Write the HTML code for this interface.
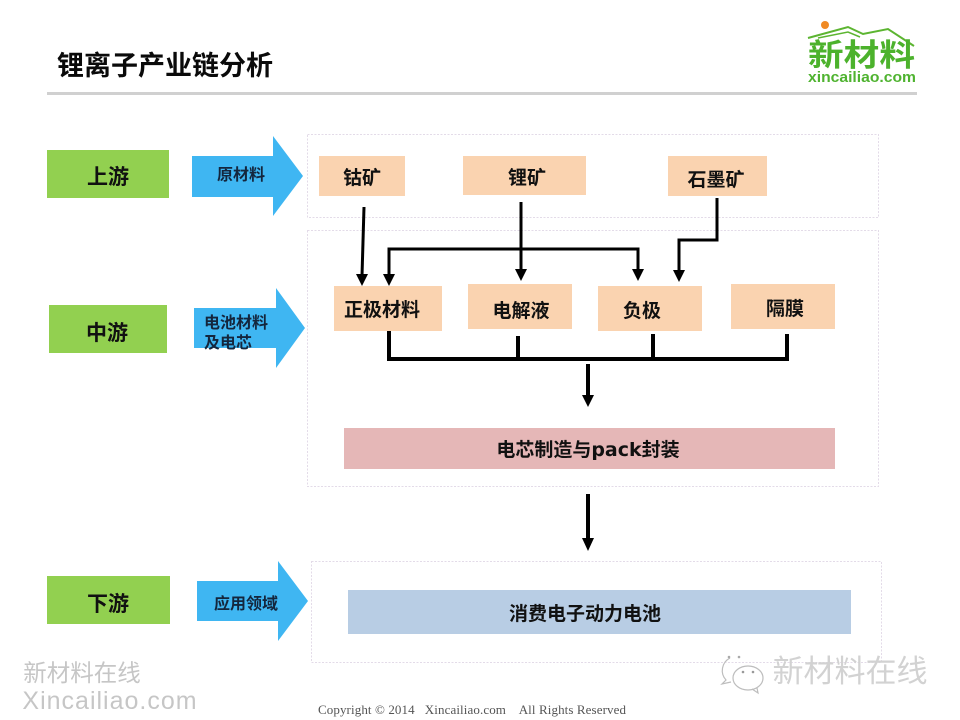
<!DOCTYPE html>
<html lang="zh"><head><meta charset="utf-8"><title>锂离子产业链分析</title>
<style>html,body{margin:0;padding:0;background:#fff}svg{display:block;filter:blur(.35px)}
text{font-family:"Liberation Sans","Noto Sans CJK SC",sans-serif;font-weight:700;fill:#111;text-anchor:middle}
</style></head><body>
<svg width="960" height="720" viewBox="0 0 960 720" xmlns="http://www.w3.org/2000/svg">
<rect width="960" height="720" fill="#fff"/>
<text x="165" y="75" font-size="27" style="fill:#0a0a0a">锂离子产业链分析</text>
<rect x="47" y="92" width="870" height="3" fill="#d0d0d0"/>

<!-- logo -->
<circle cx="825" cy="25" r="4" fill="#f08a24"/>
<path d="M808 38L848 27L863 34L888 29L914 46" fill="none" stroke="#5cb531" stroke-width="2"/>
<path d="M818 38L848 32L860 37" fill="none" stroke="#5cb531" stroke-width="1.500"/>
<text x="861.500" y="66" font-size="31" textLength="107" lengthAdjust="spacingAndGlyphs" style="fill:#4cb22c">新材料</text>
<text x="862" y="82" font-size="14.500" textLength="108" lengthAdjust="spacingAndGlyphs" style="fill:#4fb330">xincailiao.com</text>

<!-- dashed panels -->
<g fill="#fff" stroke="#e3dbe8" stroke-dasharray="2 1.5">
<rect x="307.500" y="134.500" width="571" height="83"/>
<rect x="307.500" y="230.500" width="571" height="256"/>
<rect x="311.500" y="561.500" width="570" height="101"/>
</g>

<!-- green stages -->
<g fill="#92d050">
<rect x="47" y="150" width="122" height="48"/>
<rect x="49" y="305" width="118" height="48"/>
<rect x="47" y="576" width="123" height="48"/>
</g>
<text x="108" y="184" font-size="21">上游</text>
<text x="107" y="340" font-size="21">中游</text>
<text x="108" y="611" font-size="21">下游</text>

<!-- blue arrows -->
<g fill="#3fb6f2">
<path d="M192 156H273V136L303 176L273 216V197H192z"/>
<path d="M194 308H276V288L305 328L276 368V348H194z"/>
<path d="M197 581H278V561L308 601L278 641V621H197z"/>
</g>
<text x="241" y="180" font-size="16" style="fill:#14263d">原材料</text>
<text x="236" y="328" font-size="16" style="fill:#14263d">电池材料</text>
<text x="228" y="348" font-size="16" style="fill:#14263d">及电芯</text>
<text x="246" y="609" font-size="16" style="fill:#14263d">应用领域</text>

<!-- peach boxes -->
<g fill="#fad3b0">
<rect x="319" y="156" width="86" height="40"/>
<rect x="463" y="156" width="123" height="39"/>
<rect x="668" y="156" width="99" height="40"/>
<rect x="334" y="286" width="108" height="45"/>
<rect x="468" y="284" width="104" height="45"/>
<rect x="598" y="286" width="104" height="45"/>
<rect x="731" y="284" width="104" height="45"/>
</g>
<g font-size="19">
<text x="362" y="184">钴矿</text>
<text x="527" y="184">锂矿</text>
<text x="716" y="186">石墨矿</text>
<text x="382" y="316">正极材料</text>
<text x="521" y="317">电解液</text>
<text x="642" y="317">负极</text>
<text x="785" y="315">隔膜</text>
</g>

<rect x="344" y="428" width="491" height="41" fill="#e5b7b7"/>
<text x="588" y="456" font-size="19" style="font-family:'DejaVu Sans','Noto Sans CJK SC',sans-serif">电芯制造与pack封装</text>
<rect x="348" y="590" width="503" height="44" fill="#b8cde4"/>
<text x="585" y="620" font-size="19">消费电子动力电池</text>

<!-- connectors -->
<g fill="none" stroke="#000">
<g stroke-width="3">
<path d="M364 207L362 276"/>
<path d="M521 202V272"/>
<path d="M389 276V249H638V272"/>
<path d="M717 198V240H679V272"/>
</g>
<path d="M389 331V359H787V334M518 336V359M653 334V359" stroke-width="4"/>
<path d="M588 364V398" stroke-width="4"/>
<path d="M588 494V540" stroke-width="4"/>
</g>
<g fill="#000">
<path d="M356 274H368L362 286z"/>
<path d="M383 274H395L389 286z"/>
<path d="M515 269H527L521 281z"/>
<path d="M632 269H644L638 281z"/>
<path d="M673 270H685L679 282z"/>
<path d="M582 395H594L588 407z"/>
<path d="M582 538H594L588 551z"/>
</g>

<!-- watermarks -->
<text x="82" y="681" font-size="23.500" style="font-weight:400;fill:#c6c6c6">新材料在线</text>
<text x="110" y="709" font-size="25" style="font-weight:400;fill:#c6c6c6;letter-spacing:1px">Xincailiao.com</text>
<g fill="none" stroke="#bdbdbd" stroke-width="1.200">
<path d="M730 658a14 14 0 0 0 -4 22l-4 4l9 -2"/>
<ellipse cx="748" cy="678" rx="15" ry="12" fill="#fff"/>
<path d="M752 689l6 4l-1 -5"/>
</g>
<circle cx="729" cy="657" r="1.300" fill="#aaa"/><circle cx="739" cy="657" r="1.300" fill="#aaa"/>
<circle cx="743" cy="672" r="1.300" fill="#999"/><circle cx="753" cy="672" r="1.300" fill="#999"/>
<text x="850" y="682" font-size="31" style="font-weight:400;fill:#d2d2d2">新材料在线</text>
<text x="472" y="714" font-size="13" textLength="308" style="font-family:'Liberation Serif',serif;font-weight:400;fill:#555" xml:space="preserve">Copyright © 2014   Xincailiao.com    All Rights Reserved</text>
</svg>
</body></html>
